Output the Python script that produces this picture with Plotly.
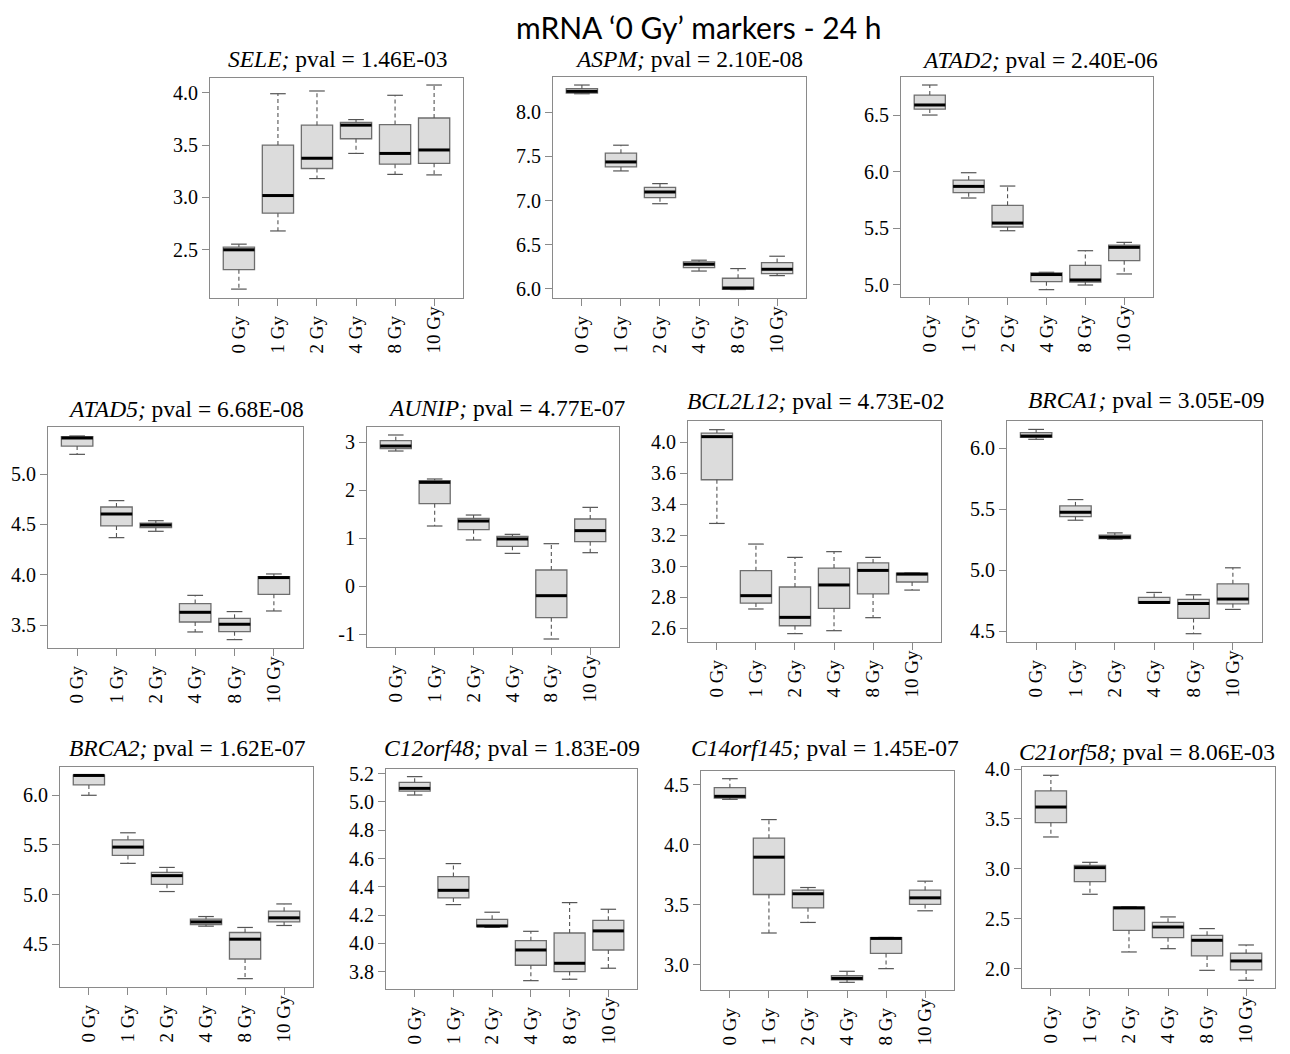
import plotly.graph_objects as go

# page body has an 8px margin: draw into a figure that fits inside it
PAGE_W, PAGE_H = 1290, 1054
OFF = 8
W, H = PAGE_W - 2 * OFF, PAGE_H - 2 * OFF

DOSES = ["0 Gy", "1 Gy", "2 Gy", "4 Gy", "8 Gy", "10 Gy"]
GENES = ["SELE", "ASPM", "ATAD2", "ATAD5", "AUNIP", "BCL2L12", "BRCA1",
         "BRCA2", "C12orf48", "C14orf145", "C21orf58"]
PVALS = ["1.46E-03", "2.10E-08", "2.40E-06", "6.68E-08", "4.77E-07", "4.73E-02",
         "3.05E-09", "1.62E-07", "1.83E-09", "1.45E-07", "8.06E-03"]

# box statistics per gene: lower whisker, Q1, median, Q3, upper whisker
SELE = dict(lo=[2.125, 2.68, 3.18, 3.42, 3.22, 3.215],
            q1=[2.31, 2.85, 3.276, 3.56, 3.317, 3.326],
            med=[2.50, 3.018, 3.374, 3.69, 3.42, 3.453],
            q3=[2.526, 3.50, 3.69, 3.717, 3.695, 3.758],
            hi=[2.554, 3.99, 4.016, 3.743, 3.975, 4.073])
ASPM = dict(lo=[8.212, 7.336, 6.964, 6.20, 5.99, 6.148],
            q1=[8.22, 7.381, 7.032, 6.239, 5.992, 6.171],
            med=[8.239, 7.438, 7.097, 6.277, 6.008, 6.22],
            q3=[8.269, 7.537, 7.15, 6.304, 6.118, 6.296],
            hi=[8.311, 7.628, 7.192, 6.323, 6.228, 6.368])
ATAD2 = dict(lo=[6.503, 5.768, 5.478, 4.956, 4.997, 5.095],
             q1=[6.556, 5.815, 5.511, 5.027, 5.024, 5.213],
             med=[6.592, 5.871, 5.546, 5.09, 5.042, 5.331],
             q3=[6.68, 5.927, 5.703, 5.105, 5.171, 5.351],
             hi=[6.769, 5.992, 5.874, 5.11, 5.301, 5.375])
ATAD5 = dict(lo=[5.195, 4.369, 4.432, 3.434, 3.358, 3.642],
             q1=[5.277, 4.485, 4.468, 3.533, 3.437, 3.807],
             med=[5.357, 4.604, 4.494, 3.629, 3.51, 3.973],
             q3=[5.37, 4.673, 4.514, 3.715, 3.569, 3.982],
             hi=[5.377, 4.736, 4.537, 3.797, 3.636, 4.009])
AUNIP = dict(lo=[2.819, 1.254, 0.962, 0.683, -1.104, 0.697],
             q1=[2.868, 1.72, 1.177, 0.83, -0.659, 0.927],
             med=[2.923, 2.165, 1.358, 0.983, -0.2, 1.157],
             q3=[3.035, 2.20, 1.414, 1.038, 0.336, 1.40],
             hi=[3.153, 2.235, 1.483, 1.08, 0.885, 1.643])
BCL2L12 = dict(lo=[3.277, 2.725, 2.566, 2.585, 2.669, 2.847],
               q1=[3.559, 2.763, 2.617, 2.729, 2.822, 2.899],
               med=[3.837, 2.811, 2.671, 2.88, 2.974, 2.95],
               q3=[3.860, 2.972, 2.867, 2.989, 3.022, 2.957],
               hi=[3.882, 3.144, 3.058, 3.095, 3.058, 2.957])
BRCA1 = dict(lo=[6.074, 5.411, 5.256, 4.73, 4.481, 4.68],
             q1=[6.09, 5.441, 5.261, 4.732, 4.606, 4.726],
             med=[6.101, 5.476, 5.272, 4.737, 4.729, 4.765],
             q3=[6.128, 5.528, 5.288, 4.778, 4.762, 4.89],
             hi=[6.155, 5.58, 5.307, 4.819, 4.80, 5.021])
BRCA2 = dict(lo=[6.0, 5.314, 5.03, 4.681, 4.152, 4.688],
             q1=[6.104, 5.394, 5.103, 4.698, 4.35, 4.724],
             med=[6.20, 5.478, 5.19, 4.724, 4.55, 4.765],
             q3=[6.204, 5.551, 5.223, 4.751, 4.617, 4.832],
             hi=[6.205, 5.622, 5.273, 4.778, 4.668, 4.905])
C12ORF48 = dict(lo=[5.049, 4.274, 4.113, 3.736, 3.746, 3.824],
                q1=[5.077, 4.321, 4.118, 3.845, 3.80, 3.953],
                med=[5.096, 4.375, 4.123, 3.953, 3.859, 4.088],
                q3=[5.139, 4.472, 4.17, 4.019, 4.073, 4.163],
                hi=[5.179, 4.564, 4.22, 4.085, 4.288, 4.241])
C14ORF145 = dict(lo=[4.378, 3.264, 3.352, 2.853, 2.967, 3.449],
                 q1=[4.389, 3.585, 3.474, 2.873, 3.094, 3.502],
                 med=[4.403, 3.896, 3.591, 2.886, 3.219, 3.557],
                 q3=[4.475, 4.054, 3.621, 2.909, 3.225, 3.621],
                 hi=[4.55, 4.209, 3.643, 2.945, 3.227, 3.696])
C21ORF58 = dict(lo=[3.319, 2.745, 2.167, 2.20, 1.983, 1.883],
                q1=[3.462, 2.871, 2.384, 2.31, 2.127, 1.987],
                med=[3.619, 3.012, 2.608, 2.417, 2.284, 2.077],
                q3=[3.78, 3.035, 2.618, 2.464, 2.334, 2.154],
                hi=[3.937, 3.065, 2.621, 2.518, 2.401, 2.237])

STATS = [SELE, ASPM, ATAD2, ATAD5, AUNIP, BCL2L12, BRCA1,
         BRCA2, C12ORF48, C14ORF145, C21ORF58]

# y tick values and labels per panel
YTICKS = [
    [2.5, 3.0, 3.5, 4.0],
    [6.0, 6.5, 7.0, 7.5, 8.0],
    [5.0, 5.5, 6.0, 6.5],
    [3.5, 4.0, 4.5, 5.0],
    [-1, 0, 1, 2, 3],
    [2.6, 2.8, 3.0, 3.2, 3.4, 3.6, 3.8],
    [4.5, 5.0, 5.5, 6.0],
    [4.5, 5.0, 5.5, 6.0],
    [3.8, 4.0, 4.2, 4.4, 4.6, 4.8, 5.0, 5.2],
    [3.0, 3.5, 4.0, 4.5],
    [2.0, 2.5, 3.0, 3.5, 4.0],
]
YTEXT = [
    ["2.5", "3.0", "3.5", "4.0"],
    ["6.0", "6.5", "7.0", "7.5", "8.0"],
    ["5.0", "5.5", "6.0", "6.5"],
    ["3.5", "4.0", "4.5", "5.0"],
    ["-1", "0", "1", "2", "3"],
    ["2.6", "2.8", "3.0", "3.2", "3.4", "3.6", "4.0"],
    ["4.5", "5.0", "5.5", "6.0"],
    ["4.5", "5.0", "5.5", "6.0"],
    ["3.8", "4.0", "4.2", "4.4", "4.6", "4.8", "5.0", "5.2"],
    ["3.0", "3.5", "4.0", "4.5"],
    ["2.0", "2.5", "3.0", "3.5", "4.0"],
]

# ---- layout (page pixels): plot box left, right, top, bottom; y range; title centre
BOXES = [
    (210, 463, 78, 298), (553, 806, 77, 298), (901, 1153, 77, 297),
    (48, 303, 427, 648), (367, 619, 427, 647), (688, 941, 421, 642), (1007, 1262, 421, 642),
    (60, 313, 767, 987), (386, 637, 769, 989), (701, 954, 771, 990), (1022, 1275, 767, 988),
]
YRANGES = [
    (2.04, 4.14), (5.894, 8.402), (4.891, 6.84),
    (3.275, 5.466), (-1.271, 3.32), (2.512, 3.938), (4.413, 6.224),
    (4.068, 6.285), (3.677, 5.233), (2.789, 4.614), (1.806, 4.02),
]
TITLE_POS = [
    (338, 59), (689, 59), (1040, 60),
    (186, 409), (506, 408), (815, 401), (1146, 400),
    (187, 748), (512, 748), (825, 748), (1147, 752),
]


def px(x):
    return (x - OFF) / W


def py(y):
    return 1 - (y - OFF) / H


SERIF = "Liberation Serif"
FILL = "#DCDCDC"
BORDER = "#6E6E6E"
FRAME = "#8A8A8A"
HALF = 0.4      # half box width (data units)
CAP = 0.2       # half staple width

# single-digit dose labels get a trailing figure space so the rotated labels
# line up at their start, as in the reference
XLABELS = [d if len(d) > 4 else d + "\u2007" for d in DOSES]

fig = go.Figure()
layout = {}
annotations = []

for k, (gene, st) in enumerate(zip(GENES, STATS)):
    n = k + 1
    xa = "x" if n == 1 else f"x{n}"
    ya = "y" if n == 1 else f"y{n}"
    pos = list(range(len(DOSES)))

    fig.add_trace(go.Box(
        x=pos, q1=st["q1"], median=st["med"], q3=st["q3"],
        lowerfence=st["q1"], upperfence=st["q3"],
        width=2 * HALF, whiskerwidth=0, boxpoints=False,
        fillcolor=FILL, line=dict(color=BORDER, width=1.3),
        xaxis=xa, yaxis=ya, showlegend=False, hoverinfo="skip"))

    wx, wy, cx, cy, mx, my = [], [], [], [], [], []
    for i in pos:
        wx += [i, i, None, i, i, None]
        wy += [st["q3"][i], st["hi"][i], None, st["q1"][i], st["lo"][i], None]
        cx += [i - CAP, i + CAP, None, i - CAP, i + CAP, None]
        cy += [st["hi"][i], st["hi"][i], None, st["lo"][i], st["lo"][i], None]
        mx += [i - HALF, i + HALF, None]
        my += [st["med"][i], st["med"][i], None]
    fig.add_trace(go.Scatter(x=wx, y=wy, mode="lines",
                             line=dict(color="#555555", width=1.1, dash="4px,3px"),
                             xaxis=xa, yaxis=ya, showlegend=False, hoverinfo="skip"))
    fig.add_trace(go.Scatter(x=cx, y=cy, mode="lines",
                             line=dict(color="#555555", width=1.2),
                             xaxis=xa, yaxis=ya, showlegend=False, hoverinfo="skip"))
    fig.add_trace(go.Scatter(x=mx, y=my, mode="lines",
                             line=dict(color="black", width=3),
                             xaxis=xa, yaxis=ya, showlegend=False, hoverinfo="skip"))

    l, r, t, b = BOXES[k]
    common = dict(showline=True, mirror=True, linecolor=FRAME, linewidth=1,
                  ticks="outside", ticklen=7, tickcolor=FRAME, tickwidth=1,
                  showgrid=False, zeroline=False, automargin=False, fixedrange=True)
    layout["xaxis" if n == 1 else f"xaxis{n}"] = dict(
        domain=[px(l), px(r)], anchor=ya, range=[-0.74, 5.74],
        tickmode="array", tickvals=pos, ticktext=XLABELS, tickangle=-90,
        ticklabelstandoff=-7,
        tickfont=dict(family=SERIF, size=19, color="black"), **common)
    layout["yaxis" if n == 1 else f"yaxis{n}"] = dict(
        domain=[py(b), py(t)], anchor=xa, range=list(YRANGES[k]),
        tickmode="array", tickvals=YTICKS[k], ticktext=YTEXT[k],
        tickfont=dict(family=SERIF, size=20, color="black"), **common)

    tx, ty = TITLE_POS[k]
    annotations.append(dict(
        text=f"<i>{gene};</i> pval = {PVALS[k]}", x=px(tx), y=py(ty),
        xref="paper", yref="paper", xanchor="center", yanchor="middle",
        showarrow=False, font=dict(family=SERIF, size=23.5, color="black")))

annotations.append(dict(
    text="mRNA \u20180 Gy\u2019 markers - 24 h", x=px(698), y=1,
    xref="paper", yref="paper", xanchor="center", yanchor="top",
    borderpad=0,
    showarrow=False, font=dict(family="Lato, Open Sans, sans-serif", size=30, color="black")))

fig.update_layout(width=W, height=H, margin=dict(l=0, r=0, t=0, b=0, autoexpand=False),
                  paper_bgcolor="white", plot_bgcolor="white",
                  showlegend=False, annotations=annotations, **layout)

fig.write_html("out.html")
